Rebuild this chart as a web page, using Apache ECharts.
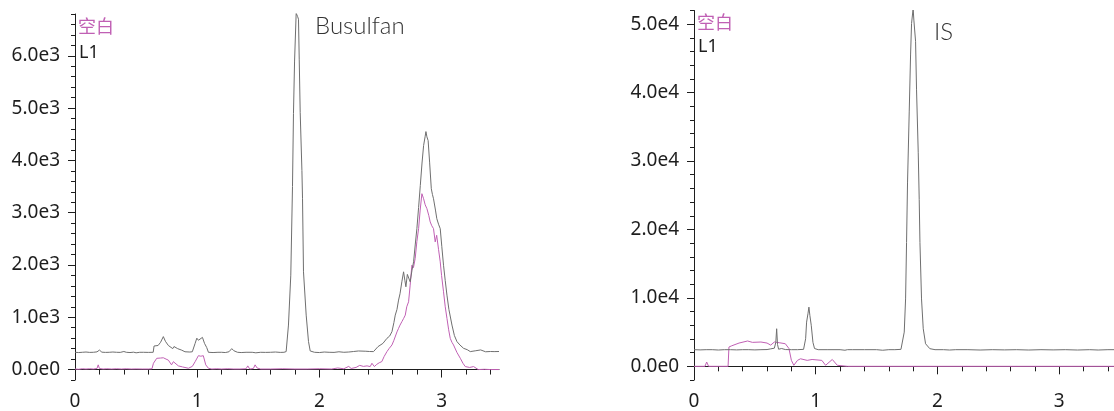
<!DOCTYPE html>
<html><head><meta charset="utf-8">
<script src="https://cdn.jsdelivr.net/npm/echarts@6/dist/echarts.min.js"></script>
<style>html,body{margin:0;padding:0;background:#fff}#c{width:1114px;height:411px}</style>
</head><body><div id="c"></div>
<script>
// ---- Data: [retention time (min), intensity] ----
const busulfanL1 = [[0,330],[0.03,325],[0.06,330],[0.09,335],[0.12,328],[0.15,330],[0.18,338],[0.2,372],[0.22,332],[0.25,328],[0.28,330],[0.31,335],[0.34,330],[0.37,328],[0.4,345],[0.42,330],[0.45,325],[0.48,332],[0.5,320],[0.53,330],[0.56,330],[0.6,328],[0.64,330],
[0.647,450],[0.68,460],[0.7,520],[0.723,630],[0.74,540],[0.764,460],[0.78,480],[0.8,400],[0.81,440],[0.819,420],[0.84,400],[0.874,370],[0.9,340],[0.94,335],[0.96,340],[0.983,500],[0.997,600],[1.01,560],[1.02,530],[1.043,615],[1.06,500],[1.078,420],[1.092,330],[1.13,325],[1.17,330],[1.2,330],[1.23,325],[1.26,340],[1.283,400],[1.3,360],[1.33,330],[1.36,325],[1.4,330],[1.45,330],[1.48,320],[1.52,330],[1.56,328],[1.6,330],[1.64,335],[1.68,328],[1.71,330],
[1.728,343],[1.747,851],[1.766,1805],[1.78,3500],[1.788,4900],[1.797,5900],[1.81,6815],[1.822,6750],[1.829,6700],[1.835,5937],[1.843,4920],[1.857,3807],[1.862,3267],[1.87,1869],[1.892,1041],[1.911,534],[1.925,355],[1.96,330],[2.0,325],[2.04,335],[2.08,330],[2.12,328],[2.16,340],[2.2,330],[2.24,335],[2.28,345],[2.32,355],[2.334,362],[2.38,350],[2.41,345],[2.443,343],[2.48,439],[2.52,500],[2.553,597],[2.575,640],[2.594,725],[2.61,900],[2.621,1041],[2.635,1150],[2.648,1328],[2.66,1450],[2.675,1678],[2.689,1869],[2.7,1700],[2.708,1583],[2.72,1820],[2.73,1805],[2.743,1678],[2.758,1900],[2.771,2060],[2.785,2400],[2.798,2695],[2.812,3100],[2.826,3521],[2.84,3950],[2.853,4284],[2.865,4450],[2.872,4551],[2.88,4450],[2.89,4379],[2.902,3967],[2.916,3458],[2.925,3350],[2.934,3267],[2.95,3050],[2.961,2886],[2.975,2780],[2.989,2695],[3.002,2350],[3.016,1995],[3.03,1700],[3.044,1423],[3.06,1150],[3.085,851],[3.105,650],[3.126,534],[3.15,470],[3.18,406],[3.21,380],[3.235,343],[3.28,360],[3.32,375],[3.36,340],[3.4,345],[3.43,343],[3.47,345]];

const busulfanBlank = [[0,10],[0.03,5],[0.06,15],[0.09,10],[0.12,15],[0.15,10],[0.18,20],[0.19,90],[0.2,20],[0.23,10],[0.26,15],[0.3,10],[0.34,15],[0.38,10],[0.42,15],[0.46,10],[0.5,12],[0.55,10],[0.6,10],[0.63,15],[0.642,120],[0.669,215],[0.7,220],[0.723,225],[0.745,200],[0.764,180],[0.79,90],[0.805,150],[0.82,120],[0.846,70],[0.88,50],[0.928,25],[0.96,60],[0.983,150],[1.01,265],[1.03,255],[1.05,265],[1.07,90],[1.092,25],[1.12,10],[1.16,15],[1.2,10],[1.25,15],[1.3,10],[1.35,10],[1.4,15],[1.414,70],[1.43,10],[1.46,20],[1.474,90],[1.49,30],[1.52,10],[1.6,10],[1.7,15],[1.8,10],[1.9,10],[2.0,15],[2.1,10],[2.15,30],[2.2,15],[2.24,60],[2.26,20],[2.3,40],[2.33,80],[2.36,60],[2.39,70],[2.416,57],[2.43,120],[2.45,57],[2.47,100],[2.49,130],[2.511,152],[2.53,250],[2.553,343],[2.57,400],[2.594,470],[2.61,560],[2.621,597],[2.635,720],[2.648,788],[2.66,850],[2.675,915],[2.69,980],[2.703,1041],[2.715,1200],[2.73,1296],[2.743,1614],[2.757,1995],[2.77,1950],[2.784,2123],[2.798,2450],[2.812,2695],[2.825,3050],[2.839,3363],[2.853,3267],[2.866,3150],[2.88,3077],[2.895,2950],[2.907,2823],[2.92,2750],[2.934,2695],[2.948,2441],[2.96,2568],[2.975,2300],[2.989,2060],[3.0,1800],[3.016,1487],[3.03,1200],[3.044,979],[3.058,760],[3.071,597],[3.085,520],[3.098,470],[3.125,330],[3.153,216],[3.175,120],[3.194,57],[3.23,40],[3.262,57],[3.3,0],[3.35,5],[3.4,0],[3.47,0]];

const isL1 = [[0,2430],[0.05,2400],[0.1,2430],[0.15,2430],[0.2,2380],[0.25,2430],[0.3,2430],[0.35,2400],[0.4,2430],[0.45,2430],[0.5,2400],[0.55,2430],[0.6,2450],[0.63,2550],[0.66,2650],[0.672,3500],[0.679,5490],[0.686,3200],[0.695,2500],[0.72,2600],[0.75,2450],[0.8,2430],[0.85,2430],[0.9,2480],[0.917,4030],[0.925,6460],[0.936,7670],[0.944,8650],[0.952,7400],[0.963,6000],[0.977,3500],[0.99,2600],[1.02,2430],[1.1,2430],[1.15,2430],[1.2,2430],[1.24,2350],[1.26,2430],[1.3,2430],[1.4,2430],[1.5,2430],[1.55,2350],[1.6,2430],[1.65,2430],[1.7,2480],
[1.713,2580],[1.727,5000],[1.738,9850],[1.746,18100],[1.754,26800],[1.768,37300],[1.779,45500],[1.787,50100],[1.8,52300],[1.806,50600],[1.82,47500],[1.828,40400],[1.842,31200],[1.85,24400],[1.856,18100],[1.869,9850],[1.883,5490],[1.902,3300],[1.937,2580],[1.98,2430],[2.05,2430],[2.1,2380],[2.15,2430],[2.25,2430],[2.35,2380],[2.45,2430],[2.55,2400],[2.65,2430],[2.75,2380],[2.85,2430],[2.95,2400],[3.05,2430],[3.15,2380],[3.25,2430],[3.32,2380],[3.4,2430],[3.45,2430]];

const isBlank = [[0,0],[0.09,0],[0.104,630],[0.12,0],[0.2,0],[0.28,0],[0.287,2820],[0.31,3000],[0.37,3400],[0.44,3700],[0.48,3500],[0.55,3550],[0.6,3400],[0.63,3100],[0.66,3550],[0.7,3450],[0.75,3300],[0.78,2600],[0.8,870],[0.82,150],[0.85,870],[0.875,1100],[0.93,870],[0.97,1000],[1.05,870],[1.081,150],[1.136,1000],[1.177,150],[1.26,0],[2.0,0],[3.45,0]];

const xMajorTicks = [0, 1, 2, 3];
const yMajorLeft = [0, 1000, 2000, 3000, 4000, 5000, 6000];
const yMajorRight = [0, 10000, 20000, 30000, 40000, 50000];
const seriesNames = ['空白', 'L1'];
const peakNames = ['Busulfan', 'IS'];

// ---- Chart ----
const GRAY = '#6f6f6f', MAG = '#c060b4', TXT = '#1e1e1e';
const FONT = '"Noto Sans", "Noto Sans CJK SC", sans-serif';
function range(a, b, s) { const r = []; for (let i = 0; a + i * s <= b + 1e-9; i++) r.push(+(a + i * s).toFixed(6)); return r; }
const xMinor = range(0, 3.4, 0.2);
const yMinorLeft = range(-200, 6800, 200);
const yMinorRight = range(-2000, 52000, 2000);

function fmtE(v, exp) { if (v === 0) return '0.0e0'; return (v / Math.pow(10, exp)).toFixed(1) + 'e' + exp; }

function xAxes(grid, max) {
  return [
    { type: 'value', gridIndex: grid, position: 'bottom', min: 0, max: max,
      axisLine: { show: true, lineStyle: { color: TXT, width: 1 } },
      axisTick: { show: true, length: 8, lineStyle: { color: TXT }, customValues: xMajorTicks },
      axisLabel: { show: true, margin: 12, color: TXT, fontSize: 19, fontFamily: FONT, customValues: xMajorTicks, formatter: v => String(Math.round(v)) },
      splitLine: { show: false } },
    { type: 'value', gridIndex: grid, position: 'bottom', min: 0, max: max,
      axisLine: { show: false },
      axisTick: { show: true, length: 5, lineStyle: { color: TXT }, customValues: xMinor },
      axisLabel: { show: false }, splitLine: { show: false } }
  ];
}
function yAxes(grid, min, max, majors, minors, exp) {
  return [
    { type: 'value', gridIndex: grid, position: 'left', min: min, max: max,
      axisLine: { show: true, lineStyle: { color: TXT, width: 1 } },
      axisTick: { show: true, length: 7, lineStyle: { color: TXT }, customValues: majors },
      axisLabel: { show: true, margin: 15, color: TXT, fontSize: 19, fontFamily: FONT, customValues: majors, formatter: v => fmtE(v, exp) },
      splitLine: { show: false } },
    { type: 'value', gridIndex: grid, position: 'left', min: min, max: max,
      axisLine: { show: false },
      axisTick: { show: true, length: 4, lineStyle: { color: TXT }, customValues: minors },
      axisLabel: { show: false }, splitLine: { show: false } }
  ];
}

const option = {
  animation: false,
  grid: [
    { left: 75, top: 14, width: 424, height: 368.7 },
    { left: 694, top: 10.5, width: 420, height: 370 }
  ],
  xAxis: [...xAxes(0, 3.47), ...xAxes(1, 3.45)],
  yAxis: [...yAxes(0, -200, 6800, yMajorLeft, yMinorLeft, 3), ...yAxes(1, -2000, 52000, yMajorRight, yMinorRight, 4)],
  series: [
    { name: seriesNames[0], type: 'line', xAxisIndex: 0, yAxisIndex: 0, data: busulfanBlank, showSymbol: false, lineStyle: { color: MAG, width: 1 }, z: 2 },
    { name: seriesNames[1], type: 'line', xAxisIndex: 0, yAxisIndex: 0, data: busulfanL1, showSymbol: false, lineStyle: { color: GRAY, width: 1 }, z: 3 },
    { name: seriesNames[0], type: 'line', xAxisIndex: 2, yAxisIndex: 2, data: isBlank, showSymbol: false, lineStyle: { color: MAG, width: 1 }, z: 2 },
    { name: seriesNames[1], type: 'line', xAxisIndex: 2, yAxisIndex: 2, data: isL1, showSymbol: false, lineStyle: { color: GRAY, width: 1 }, z: 3 }
  ],
  graphic: [
    { type: 'text', left: 78, top: 19, style: { text: seriesNames[0], fill: MAG, font: '18px ' + FONT } },
    { type: 'text', left: 79, top: 44, style: { text: seriesNames[1], fill: TXT, font: '18px ' + FONT } },
    { type: 'text', left: 697, top: 15, style: { text: seriesNames[0], fill: MAG, font: '18px ' + FONT } },
    { type: 'text', left: 698, top: 38, style: { text: seriesNames[1], fill: TXT, font: '18px ' + FONT } },
    { type: 'text', left: 315, top: 14, style: { text: peakNames[0], fill: '#333', font: '300 24px Lato, "Noto Sans", sans-serif' } },
    { type: 'text', left: 934, top: 20, style: { text: peakNames[1], fill: '#333', font: '300 24px Lato, "Noto Sans", sans-serif' } }
  ]
};
const chart = echarts.init(document.getElementById('c'), null, { renderer: 'canvas' });
chart.setOption(option);
</script>
</body></html>
